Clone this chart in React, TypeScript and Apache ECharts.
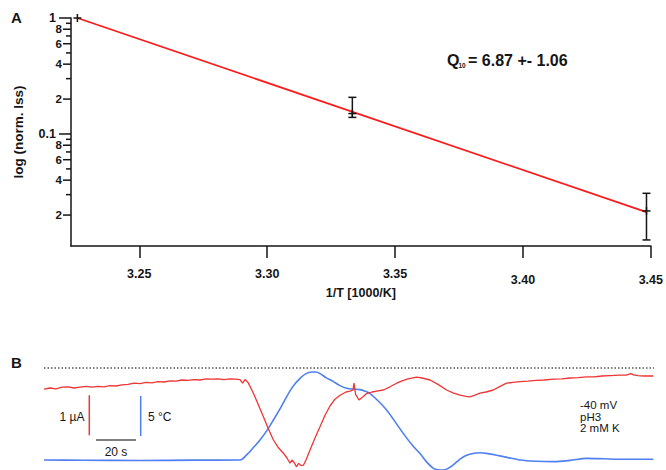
import React, { useEffect, useRef } from "react";
import * as echarts from "echarts";

const FONT = "'Liberation Sans', Arial, Helvetica, sans-serif";

// ---------- Panel A : Arrhenius-type plot ----------
const invTemp = [3.2258, 3.3333, 3.4483]; // 1/T [1000/K]
const normIss = [1, 0.15, 0.0217];
const issLow = [1, 0.139, 0.0122];
const issHigh = [1, 0.207, 0.0308];
const fitX = [3.2258, 3.4483];
const fitY = [1, 0.0212];
const xTickValues = [3.25, 3.3, 3.35, 3.4, 3.45];
const yTickValues = [
  0.02, 0.03, 0.04, 0.05, 0.06, 0.07, 0.08, 0.09, 0.1,
  0.2, 0.3, 0.4, 0.5, 0.6, 0.7, 0.8, 0.9, 1,
];
const yTickLabels = [
  "2", "", "4", "", "6", "", "8", "", "0.1",
  "2", "", "4", "", "6", "", "8", "", "1",
];
const X_MIN = 3.2233;
const X_MAX = 3.45;
const Y_MIN = 0.01082;
const Y_MAX = 1;

// ---------- Panel B : current (red) and temperature (blue) traces ----------
const redT = [
  0, 3, 6, 9, 12, 15, 18, 21, 24, 27, 30, 33, 36, 39, 42, 45, 48, 51, 54, 57, 60,
  63, 66, 69, 72, 75, 78, 81, 84, 87, 90, 93, 96, 98, 99.3, 100.5, 102, 104.7,
  107, 109.7, 112, 114.7, 117, 119.7, 121.5, 123, 124, 125, 126.3, 127.3, 128.5,
  129.7, 131, 133, 135.5, 138, 140.5, 143, 145.5, 148, 151, 153, 154.5, 155,
  155.8, 157.5, 159.5, 161.3, 164, 167, 169.7, 173, 176.3, 179, 182, 186.3, 189,
  193, 197, 201.3, 204.5, 208, 211, 213, 215.5, 218, 221, 224.7, 228, 231.3,
  234.5, 238, 242, 246, 250, 254.7, 259, 263, 267, 271.3, 275, 279, 283, 288,
  291, 293.5, 294.7, 297, 300, 304.7,
];
const redI = [
  -0.53, -0.5, -0.52, -0.48, -0.47, -0.5, -0.48, -0.46, -0.48, -0.46, -0.47,
  -0.44, -0.45, -0.42, -0.41, -0.38, -0.39, -0.36, -0.37, -0.34, -0.35, -0.32,
  -0.33, -0.3, -0.31, -0.29, -0.3, -0.27, -0.28, -0.27, -0.29, -0.27, -0.28,
  -0.29, -0.38, -0.29, -0.36, -0.63, -0.9, -1.22, -1.5, -1.8, -1.98, -2.13,
  -2.25, -2.38, -2.3, -2.36, -2.47, -2.38, -2.44, -2.43, -2.3, -2.05, -1.75,
  -1.47, -1.18, -0.95, -0.78, -0.68, -0.6, -0.58, -0.55, -0.38, -0.66, -0.8,
  -0.72, -0.64, -0.6, -0.57, -0.55, -0.47, -0.38, -0.32, -0.27, -0.23, -0.25,
  -0.3, -0.41, -0.55, -0.62, -0.68, -0.71, -0.72, -0.68, -0.63, -0.6, -0.55,
  -0.46, -0.38, -0.36, -0.34, -0.33, -0.31, -0.3, -0.28, -0.27, -0.25, -0.24,
  -0.22, -0.22, -0.2, -0.19, -0.18, -0.18, -0.14, -0.17, -0.19, -0.2, -0.2,
];
const blueT = [
  0, 20, 48, 75, 98, 101.3, 104.5, 108, 111.5, 114.7, 118, 121.3, 124.5, 128,
  131, 133.8, 136, 138, 141, 144.7, 148, 151.3, 155, 158, 160.5, 163, 167,
  171.3, 175.5, 179.7, 184, 188, 191.5, 194.7, 197, 199.7, 202, 204.7, 208,
  211.3, 215, 218, 222, 226.3, 232, 238, 246, 254.7, 263, 271.3, 280, 288, 296,
  304.7,
];
const blueC = [
  20, 19.97, 19.94, 19.98, 20, 20.63, 21.5, 22.5, 23.7, 25, 26.4, 27.9, 29.2,
  30.2, 30.8, 31.0, 31.0, 30.8, 30.3, 29.8, 29.3, 28.96, 28.85, 28.8, 28.6,
  28.3, 27.4, 26.25, 24.8, 23.3, 21.9, 20.8, 19.7, 18.96, 18.78, 18.75, 18.95,
  19.4, 20.1, 20.6, 20.85, 20.9, 20.8, 20.6, 20.3, 20, 19.85, 19.8, 19.95, 20.2,
  20.15, 20.1, 20.1, 20.1,
];
// scale bars: 1 µA, 5 °C, 20 s
const barCurrentT = 22.65;
const barCurrent = [-0.68, -1.68];
const barTempT = 48.35;
const barTemp = [28, 23];
const barTimeI = -1.8;
const barTime = [26, 46];
const conditions = ["-40 mV", "pH3", "2 mM K"];

export default function App() {
  const ref = useRef<HTMLDivElement>(null);

  useEffect(() => {
    if (!ref.current) return;
    const chart = echarts.init(ref.current, undefined, { renderer: "svg" });
    const ink = "#151515";

    const option: any = {
      animation: false,
      backgroundColor: "#ffffff",
      textStyle: { fontFamily: FONT },
      grid: [
        { left: 71, right: 14, top: 18, height: 228 },
        { left: 44, right: 12, top: 358, height: 112 },
      ],
      xAxis: [
        {
          type: "value",
          gridIndex: 0,
          min: X_MIN,
          max: X_MAX,
          splitLine: { show: false },
          axisLine: { lineStyle: { color: ink, width: 1.5 } },
          axisTick: {
            customValues: xTickValues,
            length: 12,
            lineStyle: { color: ink, width: 1.5 },
          },
          axisLabel: {
            customValues: xTickValues,
            margin: 21,
            color: ink,
            fontSize: 12.5,
            fontWeight: "bold",
            fontFamily: FONT,
            formatter: (v: number) =>
              v >= 3.399 ? "{lo|" + v.toFixed(2) + "}" : v.toFixed(2),
            rich: {
              lo: {
                padding: [6, 0, 0, 0],
                fontSize: 12.5,
                fontWeight: "bold",
                fontFamily: FONT,
                color: ink,
              },
            },
          },
          name: "1/T [1000/K]",
          nameLocation: "middle",
          nameGap: 39,
          nameTextStyle: {
            color: ink,
            fontSize: 12.5,
            fontWeight: "bold",
            fontFamily: FONT,
          },
        },
        { type: "value", gridIndex: 1, min: 0, max: 305, show: false },
      ],
      yAxis: [
        {
          type: "log",
          logBase: 10,
          gridIndex: 0,
          min: Y_MIN,
          max: Y_MAX,
          splitLine: { show: false },
          axisLine: { show: true, lineStyle: { color: ink, width: 1.5 } },
          axisTick: { show: false },
          axisLabel: { show: false },
          name: "log (norm. Iss)",
          nameLocation: "middle",
          nameGap: 46,
          nameRotate: 90,
          nameTextStyle: {
            color: ink,
            fontSize: 13.5,
            fontWeight: "bold",
            fontFamily: FONT,
          },
        },
        { type: "value", gridIndex: 1, min: -2.55, max: 0.25, show: false },
        { type: "value", gridIndex: 1, min: 18.75, max: 32.75, show: false },
      ],
      series: [
        {
          type: "line",
          xAxisIndex: 0,
          yAxisIndex: 0,
          data: fitX.map((x, i) => [x, fitY[i]]),
          symbol: "none",
          lineStyle: { color: "#ff1a1a", width: 1.7 },
          z: 3,
        },
        {
          type: "custom",
          xAxisIndex: 0,
          yAxisIndex: 0,
          clip: false,
          z: 4,
          encode: { x: 0, y: [1, 2, 3] },
          data: invTemp.map((x, i) => [x, normIss[i], issLow[i], issHigh[i]]),
          renderItem: (_p: any, api: any) => {
            const x = api.value(0);
            const pm = api.coord([x, api.value(1)]);
            const pl = api.coord([x, api.value(2)]);
            const ph = api.coord([x, api.value(3)]);
            const st = { stroke: ink, lineWidth: 1.5 };
            const c = 4;
            const children: any[] = [
              { type: "line", shape: { x1: pm[0] - c, y1: pm[1], x2: pm[0] + c, y2: pm[1] }, style: st },
              { type: "line", shape: { x1: pm[0], y1: pm[1] - c, x2: pm[0], y2: pm[1] + c }, style: st },
            ];
            if (Math.abs(ph[1] - pl[1]) > 1) {
              children.push(
                { type: "line", shape: { x1: pl[0], y1: pl[1], x2: ph[0], y2: ph[1] }, style: st },
                { type: "line", shape: { x1: pl[0] - c, y1: pl[1], x2: pl[0] + c, y2: pl[1] }, style: st },
                { type: "line", shape: { x1: ph[0] - c, y1: ph[1], x2: ph[0] + c, y2: ph[1] }, style: st }
              );
            }
            return { type: "group", children };
          },
        },
        {
          type: "custom",
          xAxisIndex: 0,
          yAxisIndex: 0,
          clip: false,
          z: 5,
          silent: true,
          encode: { x: 0, y: 1 },
          data: yTickValues.map((v, i) => [X_MIN, v, i]),
          renderItem: (_p: any, api: any) => {
            const p = api.coord([api.value(0), api.value(1)]);
            const label = yTickLabels[api.value(2)];
            const major = label === "1" || label === "0.1";
            const len = major ? 12 : label ? 8 : 5;
            const children: any[] = [
              {
                type: "line",
                shape: { x1: p[0] - len, y1: p[1], x2: p[0], y2: p[1] },
                style: { stroke: ink, lineWidth: 1.5 },
              },
            ];
            if (label) {
              children.push({
                type: "text",
                style: {
                  text: label,
                  x: p[0] - len - (major ? 3 : 1),
                  y: p[1],
                  align: "right",
                  verticalAlign: "middle",
                  fontSize: major ? 12.5 : 11.5,
                  fontWeight: "bold",
                  fontFamily: FONT,
                  fill: ink,
                },
              });
            }
            return { type: "group", children };
          },
        },
        {
          type: "line",
          xAxisIndex: 1,
          yAxisIndex: 1,
          data: [
            [0, 0],
            [305, 0],
          ],
          symbol: "none",
          lineStyle: { color: "#555", width: 1.3, type: [1.5, 2] },
        },
        {
          type: "line",
          xAxisIndex: 1,
          yAxisIndex: 2,
          data: blueT.map((t, i) => [t, blueC[i]]),
          symbol: "none",
          smooth: 0.3,
          lineStyle: { color: "#4f7ff0", width: 1.6 },
        },
        {
          type: "line",
          xAxisIndex: 1,
          yAxisIndex: 1,
          data: redT.map((t, i) => [t, redI[i]]),
          symbol: "none",
          lineStyle: { color: "#f03535", width: 1.3 },
        },
        {
          type: "line",
          xAxisIndex: 1,
          yAxisIndex: 1,
          data: barCurrent.map((v) => [barCurrentT, v]),
          symbol: "none",
          lineStyle: { color: "#f03535", width: 1.5 },
        },
        {
          type: "line",
          xAxisIndex: 1,
          yAxisIndex: 2,
          data: barTemp.map((v) => [barTempT, v]),
          symbol: "none",
          lineStyle: { color: "#4f7ff0", width: 1.5 },
        },
        {
          type: "line",
          xAxisIndex: 1,
          yAxisIndex: 1,
          data: barTime.map((t) => [t, barTimeI]),
          symbol: "none",
          lineStyle: { color: "#555", width: 1.6 },
        },
      ],
      graphic: [
        { type: "text", left: 11, top: 10, style: { text: "A", fontSize: 15, fontWeight: "bold", fontFamily: FONT, fill: ink } },
        { type: "text", left: 11, top: 355, style: { text: "B", fontSize: 15, fontWeight: "bold", fontFamily: FONT, fill: ink } },
        { type: "text", x: 447, y: 60, style: { text: "Q", fontSize: 16, fontWeight: "bold", fontFamily: FONT, fill: ink, verticalAlign: "middle" } },
        { type: "text", x: 458.5, y: 65.5, style: { text: "10", fontSize: 6.5, fontWeight: "bold", fontFamily: FONT, fill: ink, verticalAlign: "middle" } },
        { type: "text", x: 468, y: 60, style: { text: "= 6.87 +- 1.06", fontSize: 16, fontWeight: "bold", fontFamily: FONT, fill: ink, verticalAlign: "middle" } },
        { type: "text", x: 84.5, y: 417, style: { text: "1 µA", fontSize: 12, fontFamily: FONT, fill: ink, align: "right", verticalAlign: "middle" } },
        { type: "text", x: 148, y: 417, style: { text: "5 °C", fontSize: 12, fontFamily: FONT, fill: ink, align: "left", verticalAlign: "middle" } },
        { type: "text", x: 116, y: 452, style: { text: "20 s", fontSize: 12, fontFamily: FONT, fill: ink, align: "center", verticalAlign: "middle" } },
        ...conditions.map((c, i) => ({
          type: "text",
          x: 580,
          y: 405 + i * 11.7,
          style: { text: c, fontSize: 11.5, fontFamily: FONT, fill: ink, align: "left", verticalAlign: "middle" },
        })),
      ],
    };

    chart.setOption(option);
    return () => chart.dispose();
  }, []);

  return (
    <div
      ref={ref}
      style={{ position: "fixed", left: 0, top: 0, width: 666, height: 470, background: "#fff" }}
    />
  );
}
